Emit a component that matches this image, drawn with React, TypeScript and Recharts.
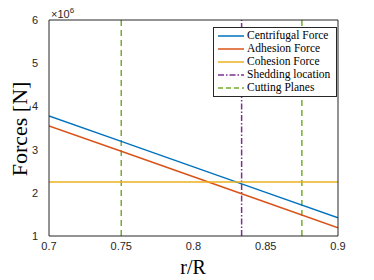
import React from 'react';
import { LineChart, Line, XAxis, YAxis, ReferenceLine } from 'recharts';

const rValues = [0.7, 0.75, 0.8, 0.85, 0.9];
const centrifugal = [3.78, 3.19, 2.6, 2.01, 1.42];
const adhesion = [3.55, 2.96, 2.37, 1.78, 1.19];
const cohesion = [2.25, 2.25, 2.25, 2.25, 2.25];
const xTicks = [0.7, 0.75, 0.8, 0.85, 0.9];
const yTicks = [1, 2, 3, 4, 5, 6];
const sheddingLocation = [0.8333];
const cuttingPlanes = [0.75, 0.875];

const C_BLUE = '#0072BD';
const C_RED = '#D95319';
const C_YEL = '#EDB120';
const C_PUR = '#7E2F8E';
const C_GRN = '#77AC30';

const legendItems = [
  { name: 'Centrifugal Force', color: C_BLUE, dash: undefined as string | undefined },
  { name: 'Adhesion Force', color: C_RED, dash: undefined },
  { name: 'Cohesion Force', color: C_YEL, dash: undefined },
  { name: 'Shedding location', color: C_PUR, dash: '6 2 1.5 2' },
  { name: 'Cutting Planes', color: C_GRN, dash: '5 3' },
];

const data = rValues.map((r, i) => ({
  r,
  centrifugal: centrifugal[i],
  adhesion: adhesion[i],
  cohesion: cohesion[i],
}));

const AXC = '#262626';
const tickStyle = { fontFamily: '"Liberation Sans", Arial, sans-serif', fontSize: 11, fill: AXC };
const serif = '"Liberation Serif", "Times New Roman", serif';

const LegendBox = () => (
  <div
    style={{
      position: 'absolute',
      left: 205,
      top: 19,
      width: 118,
      border: `1px solid ${AXC}`,
      background: '#fff',
      padding: '1px 2px 2px 2px',
      fontFamily: serif,
      fontSize: 11.5,
      lineHeight: '13px',
      color: '#000',
    }}
  >
    {legendItems.map((it) => (
      <div key={it.name} style={{ display: 'flex', alignItems: 'center', whiteSpace: 'nowrap' }}>
        <svg width={30} height={13} style={{ flex: 'none' }}>
          <line x1={2} y1={7} x2={28} y2={7} stroke={it.color} strokeWidth={1.5} strokeDasharray={it.dash} />
        </svg>
        <span style={{ marginLeft: 1 }}>{it.name}</span>
      </div>
    ))}
  </div>
);

export default function App() {
  return (
    <div style={{ position: 'relative', width: 366, height: 272 }}>
      <LineChart width={366} height={272} data={data} margin={{ top: 12, right: 36, bottom: 24, left: 11 }}>
        <XAxis
          xAxisId="b"
          dataKey="r"
          type="number"
          domain={[0.7, 0.9]}
          ticks={xTicks}
          allowDataOverflow
          height={20}
          stroke={AXC}
          tickLine={false}
          tick={tickStyle}
          tickSize={2}
          tickMargin={4}
        />
        <XAxis
          xAxisId="bi"
          type="number"
          domain={[0.7, 0.9]}
          ticks={xTicks}
          orientation="bottom"
          mirror
          stroke={AXC}
          axisLine={false}
          tick={false}
          tickSize={3}
        />
        <XAxis
          xAxisId="t"
          type="number"
          domain={[0.7, 0.9]}
          ticks={xTicks}
          orientation="top"
          mirror
          stroke={AXC}
          tick={false}
          tickSize={3}
        />
        <YAxis
          yAxisId="l"
          type="number"
          domain={[1, 6]}
          ticks={yTicks}
          allowDataOverflow
          width={30}
          stroke={AXC}
          tickLine={false}
          tick={tickStyle}
          tickMargin={5}
        />
        <YAxis
          yAxisId="li"
          type="number"
          domain={[1, 6]}
          ticks={yTicks}
          orientation="left"
          mirror
          axisLine={false}
          stroke={AXC}
          tick={false}
          tickSize={3}
        />
        <YAxis
          yAxisId="r"
          type="number"
          domain={[1, 6]}
          ticks={yTicks}
          orientation="right"
          mirror
          stroke={AXC}
          tick={false}
          tickSize={3}
        />
        {cuttingPlanes.map((x) => (
          <ReferenceLine key={x} x={x} xAxisId="b" yAxisId="l" stroke={C_GRN} strokeWidth={1.5} strokeDasharray="6 4" />
        ))}
        {sheddingLocation.map((x) => (
          <ReferenceLine key={x} x={x} xAxisId="b" yAxisId="l" stroke={C_PUR} strokeWidth={1.5} strokeDasharray="6 2 1.5 2" />
        ))}
        <Line xAxisId="b" yAxisId="l" dataKey="centrifugal" stroke={C_BLUE} strokeWidth={1.5} dot={false} isAnimationActive={false} />
        <Line xAxisId="b" yAxisId="l" dataKey="adhesion" stroke={C_RED} strokeWidth={1.5} dot={false} isAnimationActive={false} />
        <Line xAxisId="b" yAxisId="l" dataKey="cohesion" stroke={C_YEL} strokeWidth={1.5} dot={false} isAnimationActive={false} />
      </LineChart>
      <div
        style={{
          position: 'absolute',
          left: 43,
          top: -2,
          fontFamily: '"Liberation Sans", Arial, sans-serif',
          fontSize: 11,
          color: AXC,
          whiteSpace: 'nowrap',
        }}
      >
        ×10<sup style={{ fontSize: 8 }}>6</sup>
      </div>
      <div
        style={{
          position: 'absolute',
          left: 12,
          top: 121,
          transform: 'translate(-50%, -50%) rotate(-90deg)',
          fontFamily: serif,
          fontSize: 22,
          color: '#000',
          whiteSpace: 'nowrap',
        }}
      >
        Forces [N]
      </div>
      <div
        style={{
          position: 'absolute',
          left: 185,
          top: 259,
          transform: 'translate(-50%, -50%)',
          fontFamily: serif,
          fontSize: 20,
          color: '#000',
          whiteSpace: 'nowrap',
        }}
      >
        r/R
      </div>
      <LegendBox />
    </div>
  );
}
